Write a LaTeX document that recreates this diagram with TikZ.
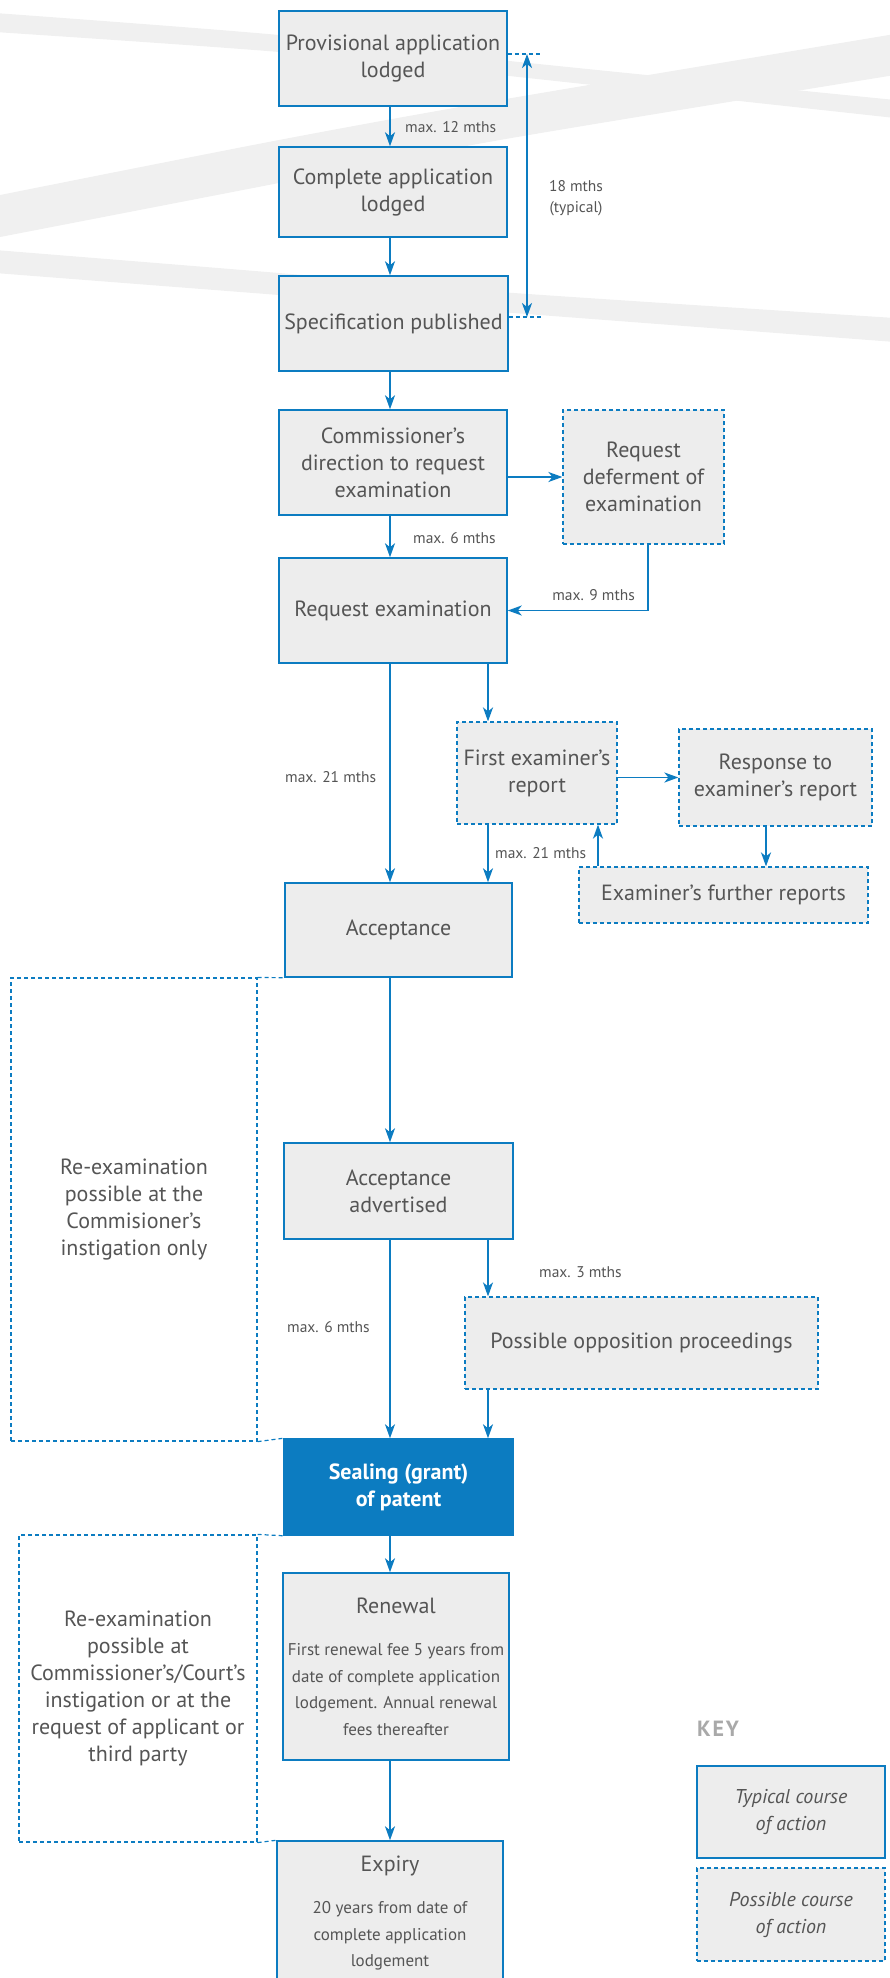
\documentclass[tikz,border=0pt]{standalone}
\usepackage{fontspec}
\setmainfont{PT Sans}
\usetikzlibrary{arrows.meta,positioning}
\definecolor{ipblue}{HTML}{0C7CC1}
\definecolor{boxfill}{HTML}{EDEDED}
\definecolor{inkgray}{HTML}{555555}
\definecolor{bandgray}{HTML}{F0F0F0}
\definecolor{keygray}{HTML}{A9A9A9}
\newcommand{\MainSize}{\fontsize{22}{27}\selectfont}
\newcommand{\KeySize}{\fontsize{20}{27}\selectfont}
\newcommand{\BoxNoteSize}{\fontsize{17}{26.6}\selectfont}
\newcommand{\NoteSize}{\fontsize{15.5}{21}\selectfont}

\begin{document}
\begin{tikzpicture}[x=1pt,y=-1pt,font=\MainSize,text=inkgray,
    >={Stealth[length=14pt,width=10pt,inset=4pt]},
    stage/.style={draw=ipblue,line width=1.5pt,fill=boxfill,align=center,inner sep=0pt},
    maybe/.style={stage,dash pattern=on 4pt off 3pt,line width=1.2pt},
    hintline/.style={draw=ipblue,dash pattern=on 4pt off 3pt,line width=1.2pt},
    aside/.style={hintline,align=center,inner sep=0pt},
    flow/.style={draw=ipblue,line width=1.8pt,->},
    note/.style={font=\NoteSize,inner sep=0pt}]
    \useasboundingbox (0,0) rectangle (890,1978);
    \fill[bandgray] plot[smooth] coordinates {(-5,13) (279,35) (500,60) (895,100)}
      -- plot[smooth] coordinates {(895,118) (500,75) (279,52) (-5,32)} -- cycle;
    \fill[bandgray] plot[smooth] coordinates {(-5,196) (279,140) (500,100) (895,34)}
      -- plot[smooth] coordinates {(895,75) (500,140) (279,183) (-5,238)} -- cycle;
    \fill[bandgray] plot[smooth] coordinates {(-5,250) (279,273) (500,292) (895,318)}
      -- plot[smooth] coordinates {(895,342) (500,312) (279,295) (-5,273)} -- cycle;

    \coordinate (colA) at (390,0);
    \coordinate (colB) at (488,0);
    \coordinate (colC) at (598,0);
    \coordinate (colD) at (766,0);
    \coordinate (colE) at (648,0);
    \coordinate (spanTop) at (527,54);
    \coordinate (spanBot) at (527,317);

    \node[stage,minimum width=228pt,minimum height=95pt] (prov) at (393,58.5) {Provisional application\\lodged};
    \node[stage,minimum width=228pt,minimum height=90pt] (compl) at (393,192) {Complete application\\lodged};
    \node[stage,minimum width=229pt,minimum height=95pt] (spec) at (393.5,323.5) {Specification published};
    \node[stage,minimum width=228pt,minimum height=105pt] (comm) at (393,462.5) {Commissioner’s\\direction to request\\examination};
    \node[maybe,minimum width=161pt,minimum height=134pt] (defer) at (643.5,477) {Request\\deferment of\\examination};
    \node[stage,minimum width=228pt,minimum height=105pt] (reqex) at (393,610.5) {Request examination};
    \node[maybe,minimum width=160pt,minimum height=102pt] (first) at (537,773) {First examiner’s\\report};
    \node[maybe,minimum width=193pt,minimum height=97pt] (resp) at (775.5,777.5) {Response to\\examiner’s report};
    \node[maybe,minimum width=289pt,minimum height=56pt] (further) at (723.5,895) {Examiner’s further reports};
    \node[stage,minimum width=227pt,minimum height=94pt] (accept) at (398.5,930) {Acceptance};
    \node[aside,minimum width=246pt,minimum height=463pt] (reex1) at (134,1209.5) {Re-examination\\possible at the\\Commisioner’s\\instigation only};
    \node[stage,minimum width=229pt,minimum height=96pt] (adv) at (398.5,1191) {Acceptance\\advertised};
    \node[maybe,minimum width=353pt,minimum height=92pt] (oppo) at (641.5,1343) {Possible opposition proceedings};
    \node[stage,fill=ipblue,text=white,font=\MainSize\bfseries,minimum width=229pt,minimum height=96pt] (seal) at (398.5,1487) {Sealing (grant)\\of patent};
    \node[aside,minimum width=238pt,minimum height=307pt] (reex2) at (138,1688.5) {Re-examination\\possible at\\Commissioner’s/Court’s\\instigation or at the\\request of applicant or\\third party};
    \node[stage,font=\BoxNoteSize,minimum width=226pt,minimum height=187pt] (renew) at (396,1666.5) {{\MainSize Renewal}\\[16pt]First renewal fee 5 years from\\date of complete application\\lodgement. Annual renewal\\fees thereafter};
    \node[stage,font=\BoxNoteSize,minimum width=226pt,minimum height=144pt] (expiry) at (390,1913) {{\MainSize Expiry}\\[16pt]20 years from date of\\complete application\\lodgement};

    \node[anchor=west,inner sep=0pt,text=keygray,font=\fontsize{22}{25}\selectfont\bfseries\addfontfeatures{LetterSpace=8}] (keyhead) at (697,1729) {KEY};
    \node[stage,font=\KeySize\itshape,minimum width=188pt,minimum height=92pt] (typkey) at (791,1812) {Typical course\\of action};
    \node[maybe,font=\KeySize\itshape,minimum width=188pt,minimum height=93pt] (poskey) at (791,1914.5) {Possible course\\of action};

    \node[note,anchor=west] (lbl12) at (405,127) {max. 12 mths};
    \node[note,align=center] (lbl18) at (576,198) {18 mths\\(typical)};
    \node[note,anchor=west] (lbl6a) at (413,538) {max. 6 mths};
    \node[note,anchor=east] (lbl9) at (635,595) {max. 9 mths};
    \node[note,anchor=west] (lbl21a) at (285,777) {max. 21 mths};
    \node[note,anchor=west] (lbl21b) at (495,853) {max. 21 mths};
    \node[note,anchor=west] (lbl3) at (539,1272) {max. 3 mths};
    \node[note,anchor=west] (lbl6b) at (287,1327) {max. 6 mths};

    \draw[flow] (prov.south -| colA) -- (compl.north -| colA);
    \draw[flow] (compl.south -| colA) -- (spec.north -| colA);
    \draw[flow] (spec.south -| colA) -- (comm.north -| colA);
    \draw[flow] (comm.south -| colA) -- (reqex.north -| colA);
    \draw[flow] (comm.east |- defer.west) -- (defer.west);
    \draw[flow] (defer.south -| colE) |- (reqex.east);
    \draw[flow] (reqex.south -| colA) -- (accept.north -| colA);
    \draw[flow] (reqex.south -| colB) -- (first.north -| colB);
    \draw[flow] (first.south -| colB) -- (accept.north -| colB);
    \draw[flow] (first.east |- resp.west) -- (resp.west);
    \draw[flow] (resp.south -| colD) -- (further.north -| colD);
    \draw[flow] (further.north -| colC) -- (first.south -| colC);
    \draw[flow] (accept.south -| colA) -- (adv.north -| colA);
    \draw[flow] (adv.south -| colA) -- (seal.north -| colA);
    \draw[flow] (adv.south -| colB) -- (oppo.north -| colB);
    \draw[flow] (oppo.south -| colB) -- (seal.north -| colB);
    \draw[flow] (seal.south -| colA) -- (renew.north -| colA);
    \draw[flow] (renew.south -| colA) -- (expiry.north -| colA);
    \draw[flow,<->] (spanTop) -- (spanBot);
    \draw[hintline] (prov.east |- spanTop) -- ([xshift=14pt]spanTop);
    \draw[hintline] (spec.east |- spanBot) -- ([xshift=14pt]spanBot);
    \draw[hintline] (reex1.north east) -- (accept.south west);
    \draw[hintline] (reex1.south east) -- (seal.north west);
    \draw[hintline] (reex2.north east) -- (seal.south west);
    \draw[hintline] (reex2.south east) -- (expiry.north west);
  \end{tikzpicture}
\end{document}
